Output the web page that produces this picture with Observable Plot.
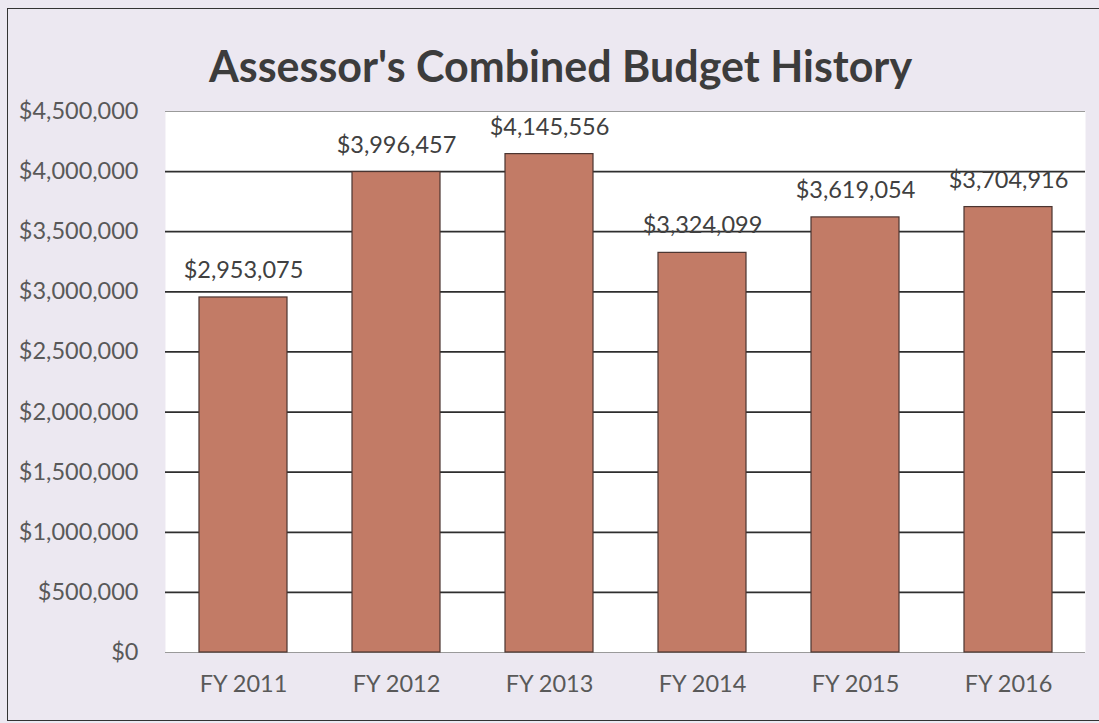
<!DOCTYPE html>
<html>
<head>
<meta charset="utf-8">
<script src="https://cdn.jsdelivr.net/npm/d3@7"></script>
<script src="https://cdn.jsdelivr.net/npm/@observablehq/plot@0.6"></script>
<style>
  html, body { margin: 0; padding: 0; background: #ffffff; }
  #page {
    position: relative; width: 1099px; height: 723px; overflow: hidden;
    background: #ece8f1; font-family: Lato, "Open Sans", sans-serif;
  }
  #frame {
    position: absolute; left: 7px; top: 8px; width: 1100px; height: 713px;
    border: 1.5px solid #333; box-sizing: border-box;
  }
  #title {
    position: absolute; left: 0; top: 0; width: 1099px; height: 90px;
    text-align: center; line-height: 132px; font-size: 43px; font-weight: bold; color: #3c3c3c;
    padding-left: 22px; box-sizing: border-box;
  }
  #chart { position: absolute; left: 0; top: 90px; }
</style>
</head>
<body>
<div id="page">
  <div id="frame"></div>
  <div id="title">Assessor's Combined Budget History</div>
  <div id="chart"></div>
</div>
<script>
const years = ["FY 2011", "FY 2012", "FY 2013", "FY 2014", "FY 2015", "FY 2016"];
const budgets = [2953075, 3996457, 4145556, 3324099, 3619054, 3704916];
const yTicks = [0, 500000, 1000000, 1500000, 2000000, 2500000, 3000000, 3500000, 4000000, 4500000];

const data = years.map((y, i) => ({year: y, value: budgets[i]}));
const fmt = d3.format("$,");
const innerGrid = yTicks.filter(t => t > 0 && t < 4500000);
const edgeGrid = yTicks.filter(t => t === 0 || t === 4500000);

const chart = Plot.plot({
  width: 1099,
  height: 633,
  marginTop: 21,
  marginBottom: 71,
  marginLeft: 165,
  marginRight: 14,
  style: {background: "transparent", fontFamily: "Lato, 'Open Sans', sans-serif", overflow: "visible"},
  x: {domain: years, paddingInner: 0.426, paddingOuter: 0.213, label: null},
  y: {domain: [0, 4500000], label: null},
  marks: [
    Plot.frame({fill: "white", stroke: null}),
    Plot.ruleY(edgeGrid, {stroke: "#9a9a9a", strokeWidth: 1.2}),
    Plot.ruleY(innerGrid, {stroke: "#2e2e2e", strokeWidth: 1.8}),
    Plot.barY(data, {x: "year", y: "value", fill: "#c27b66", stroke: "#4a3430", strokeWidth: 1.2}),
    Plot.text(data, {x: "year", y: "value", text: d => fmt(d.value), dy: -27, fontSize: 23.5, fill: "#404040"}),
    Plot.axisY(yTicks, {tickSize: 0, tickPadding: 27, tickFormat: fmt, fontSize: 23.5, fill: "#595959"}),
    Plot.axisX({tickSize: 0, tickPadding: 23, fontSize: 23.5, fill: "#595959"})
  ]
});
document.getElementById("chart").appendChild(chart);
</script>
</body>
</html>
